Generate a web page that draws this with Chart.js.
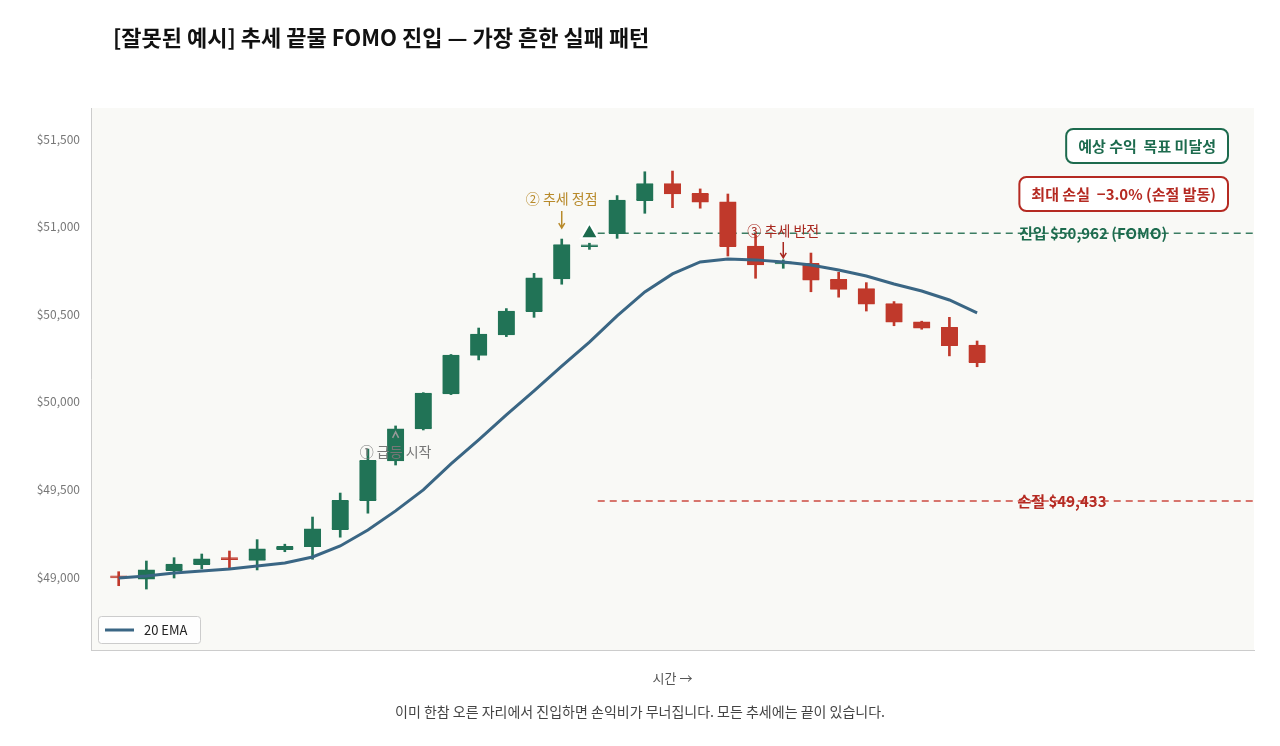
<!DOCTYPE html>
<html><head><meta charset="utf-8">
<script src="https://cdn.jsdelivr.net/npm/chart.js@4.4.1/dist/chart.umd.min.js"></script>
<style>
html,body{margin:0;padding:0;background:#fff;font-family:"Noto Sans CJK KR","Noto Sans",sans-serif;}
#wrap{position:absolute;left:0;top:0;width:1280px;height:746px;}
#title{position:absolute;left:113px;top:20px;font-size:22px;font-weight:700;color:#111;}
#note{position:absolute;left:0;width:1280px;top:701px;text-align:center;font-size:14px;color:#444;}
</style></head><body>
<div id="wrap"><canvas id="c"></canvas></div>
<div id="title">[잘못된 예시] 추세 끝물 FOMO 진입 — 가장 흔한 실패 패턴</div>
<div id="note">이미 한참 오른 자리에서 진입하면 손익비가 무너집니다. 모든 추세에는 끝이 있습니다.</div>
<script>
const opens  = [49000,48987,49036,49070,49101,49095,49156,49173,49270,49436,49662,49845,50045,50265,50381,50514,50701,50885,50960,51148,51245,51190,51142,50889,50787,50791,50699,50646,50560,50456,50425,50324];
const closes = [48995,49040,49074,49103,49099,49160,49175,49274,49438,49666,49845,50049,50267,50387,50518,50707,50897,50895,51152,51245,51186,51139,50885,50781,50789,50694,50642,50557,50454,50420,50320,50223];
const highs  = [49030,49091,49110,49131,49148,49213,49187,49342,49479,49730,49862,50052,50270,50421,50532,50733,50929,50905,51177,51313,51317,51215,51186,50952,50810,50849,50739,50680,50572,50460,50482,50347];
const lows   = [48950,48931,48994,49046,49047,49040,49144,49101,49227,49364,49639,49839,50041,50239,50372,50482,50671,50870,50933,51076,51108,51105,50832,50705,50762,50628,50597,50518,50434,50414,50262,50200];
const ema20  = [48994,49006,49023,49034,49046,49063,49080,49114,49177,49268,49377,49497,49645,49782,49925,50062,50204,50341,50490,50627,50730,50798,50815,50810,50798,50781,50752,50718,50672,50632,50581,50507];
const entryPrice = 50962, stopPrice = 49433, entryIndex = 17;
const yTicks = [49000,49500,50000,50500,51000,51500];

const G='#217356', R='#c0392b';
const idx = opens.map((_,i)=>i);
const isUp = i => closes[i] >= opens[i];
const colors = idx.map(i => isUp(i)?G:R);
const F = '"Noto Sans CJK KR","Noto Sans",sans-serif';

const bgPlugin = {id:'bg', beforeDraw(ch){const a=ch.chartArea,c=ch.ctx;c.save();c.fillStyle='#f9f9f6';c.fillRect(a.left,a.top,a.right-a.left,a.bottom-a.top);c.restore();}};

function rbox(c,x,y,w,h,r){c.beginPath();c.moveTo(x+r,y);c.arcTo(x+w,y,x+w,y+h,r);c.arcTo(x+w,y+h,x,y+h,r);c.arcTo(x,y+h,x,y,r);c.arcTo(x,y,x+w,y,r);c.closePath();}

const annPlugin = {id:'ann', afterDraw(ch){
  const c=ch.ctx, xs=ch.scales.x, ys=ch.scales.y;
  c.save();
  c.textBaseline='middle';
  c.font='bold 15px '+F; c.textAlign='center';
  c.fillStyle='#1d6b4e'; c.fillText('진입 $50,962 (FOMO)', 1093, ys.getPixelForValue(entryPrice));
  c.fillStyle='#b52a22'; c.fillText('손절 $49,433', 1062, ys.getPixelForValue(stopPrice));
  let x1=xs.getPixelForValue(10), y1=ys.getPixelForValue(highs[10]);
  c.fillStyle='#777'; c.font='14px '+F; c.textAlign='center';
  c.fillText('① 급등 시작', x1, y1+26);
  c.strokeStyle='#999'; c.lineWidth=1.5; c.beginPath(); c.moveTo(x1-3,y1+12); c.lineTo(x1,y1+6); c.lineTo(x1+3,y1+12); c.stroke();
  let x2=xs.getPixelForValue(16), y2=ys.getPixelForValue(highs[16]);
  c.fillStyle='#b88a2a'; c.strokeStyle='#b88a2a'; c.fillText('② 추세 정점', x2, y2-40);
  c.beginPath(); c.moveTo(x2,y2-28); c.lineTo(x2,y2-12); c.moveTo(x2-3,y2-16); c.lineTo(x2,y2-11); c.lineTo(x2+3,y2-16); c.stroke();
  let x3=xs.getPixelForValue(24), y3=ys.getPixelForValue(highs[24]);
  c.fillStyle='#a8281f'; c.strokeStyle='#a8281f'; c.fillText('③ 추세 반전', x3, y3-29);
  c.beginPath(); c.moveTo(x3,y3-18); c.lineTo(x3,y3-3); c.moveTo(x3-3,y3-7); c.lineTo(x3,y3-2); c.lineTo(x3+3,y3-7); c.stroke();
  c.font='bold 15px '+F;
  const boxes=[['예상 수익  목표 미달성','#1d6b4e',146],['최대 손실  −3.0% (손절 발동)','#b52a22',194]];
  boxes.forEach(([t,col,cy])=>{const w=c.measureText(t).width+24, right=1228;
    c.fillStyle='#fff'; rbox(c,right-w,cy-17,w,34,7); c.fill(); c.strokeStyle=col; c.lineWidth=2; c.stroke();
    c.fillStyle=col; c.textAlign='center'; c.fillText(t,right-w/2,cy);});
  c.fillStyle='rgba(255,255,255,0.85)'; c.strokeStyle='#ccc'; c.lineWidth=1; rbox(c,98.5,616.5,102,27,3); c.fill(); c.stroke();
  c.strokeStyle='#3a6684'; c.lineWidth=3; c.beginPath(); c.moveTo(105,630); c.lineTo(134,630); c.stroke();
  c.fillStyle='#222'; c.font='13px '+F; c.textAlign='left'; c.fillText('20 EMA',144,630);
  c.restore();
}};

new Chart(document.getElementById('c'), {
  data:{datasets:[
    {type:'bar', data: idx.map(i=>({x:i,y:[lows[i],highs[i]]})), backgroundColor:colors, barThickness:2, grouped:false, order:3},
    {type:'bar', data: idx.map(i=>({x:i,y:[opens[i],closes[i]]})), backgroundColor:colors, borderColor:colors, borderWidth:{top:1,bottom:1,left:0,right:0}, borderSkipped:false, barThickness:17, minBarLength:2, grouped:false, order:2},
    {type:'line', data: idx.map(i=>({x:i,y:ema20[i]})), borderColor:'#3a6684', borderWidth:3, pointRadius:0, tension:0, order:1},
    {type:'line', data:[{x:entryIndex+0.3,y:entryPrice},{x:41,y:entryPrice}], borderColor:'#3b7d62', borderWidth:1.5, borderDash:[7,5], pointRadius:0, order:4},
    {type:'line', data:[{x:entryIndex+0.3,y:stopPrice},{x:41,y:stopPrice}], borderColor:'#cc4a40', borderWidth:1.5, borderDash:[7,5], pointRadius:0, order:4},
    {type:'scatter', data:[{x:entryIndex,y:entryPrice}], pointStyle:'triangle', pointRadius:10, backgroundColor:'#1d6b4e', borderColor:'#fff', borderWidth:2, order:0}
  ]},
  options:{
    responsive:true, maintainAspectRatio:false, animation:false,
    layout:{padding:{top:108,right:26,bottom:56,left:0}},
    plugins:{legend:{display:false}, tooltip:{enabled:false}},
    scales:{
      x:{type:'linear', offset:false, min:-1, max:41, grid:{display:false}, border:{color:'#ccc'}, ticks:{display:false},
         title:{display:true, text:'시간 →', color:'#555', font:{family:F,size:13}, padding:{top:0}},
         afterFit(s){s.height=40;}},
      y:{min:48583, max:51677, grid:{display:false}, border:{color:'#ccc'},
         afterBuildTicks(s){s.ticks=yTicks.map(v=>({value:v}));},
         afterFit(s){s.width=91;},
         ticks:{color:'#777', font:{family:F,size:12}, callback:v=>'$'+v.toLocaleString('en-US')}}
    }
  },
  plugins:[bgPlugin, annPlugin]
});
</script></body></html>
